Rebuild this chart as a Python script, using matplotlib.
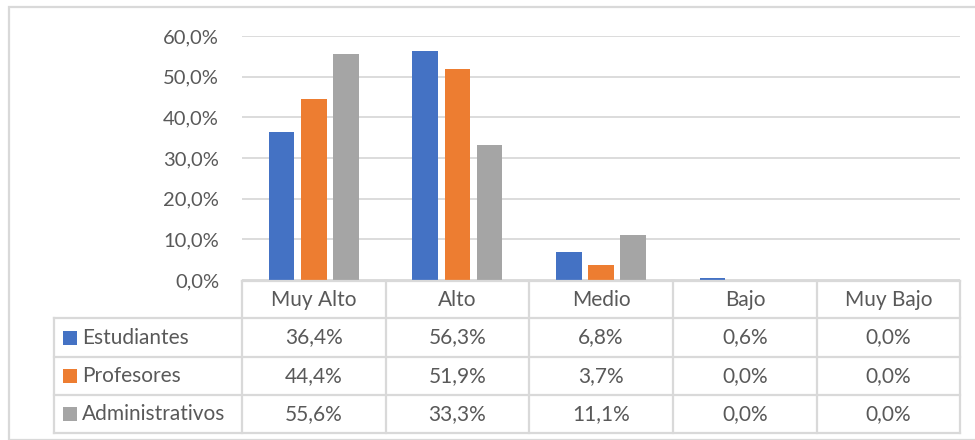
"""
Gráfico de barras agrupadas con tabla de datos (estilo Excel)
"""

import numpy as np
import matplotlib
matplotlib.use("Agg")
import matplotlib.pyplot as plt
from matplotlib.lines import Line2D
from matplotlib.patches import Rectangle
from matplotlib.ticker import FuncFormatter, MultipleLocator

# Datos
categorias = ["Muy Alto", "Alto", "Medio", "Bajo", "Muy Bajo"]
series = ["Estudiantes", "Profesores", "Administrativos"]
estudiantes = [36.4, 56.3, 6.8, 0.6, 0.0]
profesores = [44.4, 51.9, 3.7, 0.0, 0.0]
administrativos = [55.6, 33.3, 11.1, 0.0, 0.0]
colores = ["#4472C4", "#ED7D31", "#A5A5A5"]

W, H = 975, 440
GRIS = "#D9D9D9"
TEXTO = "#595959"
plt.rcParams["font.family"] = ["Lato", "DejaVu Sans"]

fig = plt.figure(figsize=(W / 100, H / 100), dpi=100)

# Área del gráfico en píxeles
x0, x1 = 242, 960
y_top, y_cero = 36, 280
ax = fig.add_axes([x0 / W, 1 - y_cero / H, (x1 - x0) / W, (y_cero - y_top) / H])

valores = [estudiantes, profesores, administrativos]
x = np.arange(len(categorias))
paso = 0.224
ancho = 0.178
for i, (nombre, vals) in enumerate(zip(series, valores)):
    ax.bar(x + (i - 1) * paso, vals, width=ancho, color=colores[i], label=nombre, zorder=3)

ax.set_xlim(-0.5, len(categorias) - 0.5)
ax.set_ylim(0, 60)
ax.yaxis.set_major_locator(MultipleLocator(10))
ax.yaxis.set_major_formatter(FuncFormatter(lambda v, _: f"{v:.1f}%".replace(".", ",")))
ax.grid(True, axis="y", color=GRIS, linewidth=1.3, zorder=0)
ax.set_xticks([])
ax.tick_params(axis="y", length=0, pad=16.5, labelsize=14.5, labelcolor=TEXTO)
for s in ax.spines.values():
    s.set_visible(False)


# Tabla de datos, dibujada en píxeles de la figura
def px(xp, yp):
    return xp / W, 1 - yp / H


def linea(xa, ya, xb, yb):
    (fa, ga), (fb, gb) = px(xa, ya), px(xb, yb)
    fig.add_artist(Line2D([fa, fb], [ga, gb], color=GRIS, linewidth=1.6))


cols = [242, 386, 529, 673, 817, 960]
filas = [281, 318, 357, 395, 433]
x_leyenda = 54

linea(cols[0], filas[0], cols[-1], filas[0])
for yp in filas[1:]:
    linea(x_leyenda, yp, cols[-1], yp)
for xp in cols:
    linea(xp, filas[0], xp, filas[-1])
linea(x_leyenda, filas[1], x_leyenda, filas[-1])

fs = 15
for j, cat in enumerate(categorias):
    cx = (cols[j] + cols[j + 1]) / 2
    cy = (filas[0] + filas[1]) / 2
    fig.text(*px(cx, cy), cat, ha="center", va="center", fontsize=fs, color=TEXTO)

for i, (nombre, vals) in enumerate(zip(series, valores)):
    cy = (filas[i + 1] + filas[i + 2]) / 2
    fx, fy = px(63, cy + 7)
    fig.add_artist(Rectangle((fx, fy), 14 / W, 14 / H, facecolor=colores[i],
                             edgecolor="none", transform=fig.transFigure))
    fig.text(*px(82, cy), nombre, ha="left", va="center", fontsize=fs, color=TEXTO)
    for j, v in enumerate(vals):
        cx = (cols[j] + cols[j + 1]) / 2
        fig.text(*px(cx, cy), f"{v:.1f}%".replace(".", ","), ha="center", va="center",
                 fontsize=fs, color=TEXTO)

# Borde exterior
fig.add_artist(Rectangle((9 / W, 0), 1, 1 - 7 / H, facecolor="none", edgecolor=GRIS,
                         linewidth=1.6, transform=fig.transFigure))

fig.savefig("out.png", dpi=100)
